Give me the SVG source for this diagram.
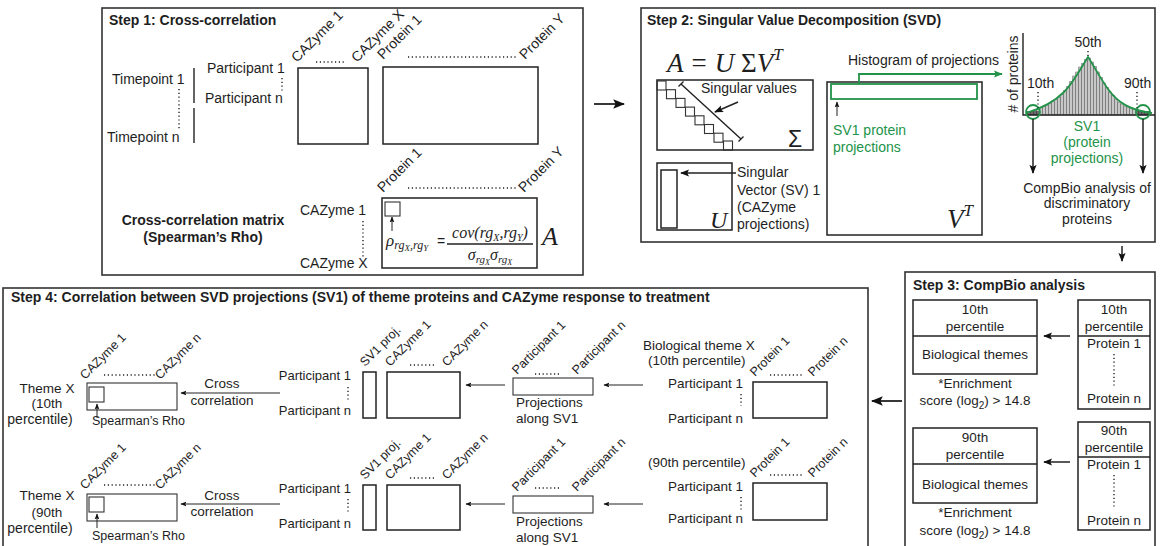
<svg xmlns="http://www.w3.org/2000/svg" width="1160" height="546" viewBox="0 0 1160 546">
<style>
text{font-family:"Liberation Sans",Arial,sans-serif;font-size:14px;fill:#1e1e1e}
.b{font-weight:bold}
.s{font-size:13.5px}
.f{font-size:13px}
.fs{font-size:12.5px}
.r{font-size:12.5px}
.mid{text-anchor:middle}
.end{text-anchor:end}
.g{fill:#23934a}
.m{font-family:"Liberation Serif","Times New Roman",serif;font-style:italic}
.frame{fill:#fff;stroke:#333;stroke-width:1.6}
.box{fill:none;stroke:#222;stroke-width:1.5}
.thin{fill:none;stroke:#333;stroke-width:1.1}
.dot{fill:none;stroke:#222;stroke-width:1.4;stroke-dasharray:1.2 2.6}
.ln{fill:none;stroke:#222;stroke-width:1.4}
.ar{fill:none;stroke:#222;stroke-width:1.5;marker-end:url(#ah)}
.arL{fill:none;stroke:#222;stroke-width:1.8;marker-end:url(#ahL)}
.arS{fill:none;stroke:#222;stroke-width:1;marker-end:url(#ahS)}
.gl{fill:none;stroke:#23934a;stroke-width:1.8}
.bar{fill:#c8c8c8;stroke:#555;stroke-width:0.5}
</style>
<defs>
<marker id="ahL" viewBox="0 0 10 10" refX="9" refY="5" markerWidth="12" markerHeight="12" markerUnits="userSpaceOnUse" orient="auto"><path d="M0,1 L10,5 L0,9 L2,5 z" fill="#111"/></marker>
<marker id="ah" viewBox="0 0 10 10" refX="9" refY="5" markerWidth="9" markerHeight="9" markerUnits="userSpaceOnUse" orient="auto"><path d="M0,1 L10,5 L0,9 L2,5 z" fill="#111"/></marker>
<marker id="ahS" viewBox="0 0 10 10" refX="9" refY="5" markerWidth="6" markerHeight="6" markerUnits="userSpaceOnUse" orient="auto"><path d="M0,1 L10,5 L0,9 L2,5 z" fill="#111"/></marker>
<marker id="ahG" viewBox="0 0 10 10" refX="9" refY="5" markerWidth="9" markerHeight="9" markerUnits="userSpaceOnUse" orient="auto"><path d="M0,1 L10,5 L0,9 L2,5 z" fill="#23934a"/></marker>
</defs>
<rect width="1160" height="546" fill="#fff"/>

<!-- Step 1 -->
<g id="step1">
<rect class="frame" x="102" y="8" width="481" height="267"/>
<text class="b" x="109" y="25">Step 1: Cross-correlation</text>
<text x="112" y="84">Timepoint 1</text>
<text x="107" y="142">Timepoint n</text>
<line class="dot" x1="179" y1="89" x2="179" y2="130"/>
<line class="ln" x1="194" y1="68" x2="194" y2="103"/>
<line class="ln" x1="194" y1="108" x2="194" y2="143"/>
<text x="207" y="73">Participant 1</text>
<text x="205" y="103">Participant n</text>
<line class="dot" x1="282" y1="78" x2="282" y2="91"/>
<rect class="box" x="298" y="68" width="70" height="76"/>
<text transform="translate(297,63) rotate(-45)">CAZyme 1</text>
<text transform="translate(357,63) rotate(-45)">CAZyme X</text>
<line class="dot" x1="316" y1="62" x2="346" y2="62"/>
<rect class="box" x="383" y="67" width="155" height="77"/>
<text transform="translate(383,60) rotate(-45)">Protein 1</text>
<text transform="translate(525,60) rotate(-45)">Protein Y</text>
<line class="dot" x1="408" y1="57" x2="518" y2="57"/>
<text class="b mid" x="203" y="225">Cross-correlation matrix</text>
<text class="b mid" x="203" y="242">(Spearman’s Rho)</text>
<text x="300" y="215">CAZyme 1</text>
<text x="300" y="268">CAZyme X</text>
<line class="dot" x1="363" y1="221" x2="363" y2="258"/>
<rect class="box" x="382" y="198" width="155" height="70"/>
<rect class="thin" x="385" y="202" width="15" height="14"/>
<line class="arS" x1="392" y1="231" x2="392" y2="217"/>
<text class="m" x="386" y="246" style="font-size:17px">ρ<tspan style="font-size:12px" dy="3">rg</tspan><tspan style="font-size:9px" dy="2">X</tspan><tspan style="font-size:12px" dy="-2">,rg</tspan><tspan style="font-size:9px" dy="2">Y</tspan></text>
<text x="437" y="246" style="font-size:14px">=</text>
<text class="m mid" x="490" y="238" style="font-size:16px">cov(rg<tspan style="font-size:10px" dy="3">X</tspan><tspan dy="-3">,rg</tspan><tspan style="font-size:10px" dy="3">Y</tspan><tspan dy="-3">)</tspan></text>
<line class="ln" x1="447" y1="244" x2="533" y2="244" stroke-width="1.2"/>
<text class="m mid" x="490" y="260" style="font-size:16px">σ<tspan style="font-size:11px" dy="3">rg</tspan><tspan style="font-size:8px" dy="2">X</tspan><tspan dy="-5">σ</tspan><tspan style="font-size:11px" dy="3">rg</tspan><tspan style="font-size:8px" dy="2">X</tspan></text>
<text class="m" x="542" y="245" style="font-size:26px">A</text>
<text transform="translate(383,193) rotate(-45)">Protein 1</text>
<text transform="translate(524,193) rotate(-45)">Protein Y</text>
<line class="dot" x1="408" y1="188" x2="518" y2="188"/>
</g>

<!-- Step 2 -->
<g id="step2">
<rect class="frame" x="641" y="8" width="514" height="234"/>
<text class="b" x="647" y="25">Step 2: Singular Value Decomposition (SVD)</text>
<text class="m" x="667" y="72" style="font-size:27px">A = U <tspan style="font-style:normal">Σ</tspan>V<tspan style="font-size:17px" dy="-12">T</tspan></text>
<rect class="box" x="657" y="80" width="156" height="70"/>
<g class="thin">
<rect x="657" y="81" width="9" height="9"/>
<rect x="666.5" y="89.7" width="9" height="9"/>
<rect x="676" y="98.4" width="9" height="9"/>
<rect x="685.5" y="107.1" width="9" height="9"/>
<rect x="695" y="115.8" width="9" height="9"/>
<rect x="704.5" y="124.5" width="9" height="9"/>
<rect x="714" y="133.2" width="9" height="9"/>
<rect x="723.5" y="141" width="9" height="9"/>
</g>
<path class="ln" d="M681,84 L741,139 M678.5,86.5 L683.5,81.5 M738.5,141.5 L743.5,136.5" stroke-width="1.2"/>
<text x="701" y="93">Singular values</text>
<line class="ar" x1="738" y1="102" x2="715" y2="112" stroke-width="1.1"/>
<text x="788" y="147" style="font-size:23px">Σ</text>
<rect class="box" x="657" y="163" width="75" height="67"/>
<rect class="box" x="661" y="170" width="16" height="58"/>
<text class="m" x="710" y="228" style="font-size:24px">U</text>
<line class="ar" x1="736" y1="173" x2="681" y2="173" stroke-width="1.1"/>
<text x="737" y="177">Singular</text>
<text x="737" y="195">Vector (SV) 1</text>
<text x="737" y="212">(CAZyme</text>
<text x="737" y="229">projections)</text>
<rect class="box" x="827" y="82" width="155" height="153"/>
<rect class="gl" x="831" y="84" width="146" height="15"/>
<path class="gl" d="M859,84 V74 H1002" stroke-width="1.5" marker-end="url(#ahG)"/>
<text x="848" y="65">Histogram of projections</text>
<line class="arS" x1="837" y1="116" x2="837" y2="102"/>
<text class="g" x="833" y="135">SV1 protein</text>
<text class="g" x="833" y="152">projections</text>
<text class="m" x="947" y="228" style="font-size:27px">V<tspan style="font-size:17px" dy="-12">T</tspan></text>
<g>
<rect class="bar" x="1027.75" y="112" width="2.5" height="3"/>
<rect class="bar" x="1030.75" y="111" width="2.5" height="4"/>
<rect class="bar" x="1033.75" y="110" width="2.5" height="5"/>
<rect class="bar" x="1036.75" y="109" width="2.5" height="6"/>
<rect class="bar" x="1039.75" y="107.5" width="2.5" height="7.5"/>
<rect class="bar" x="1042.75" y="106.5" width="2.5" height="8.5"/>
<rect class="bar" x="1045.75" y="105" width="2.5" height="10"/>
<rect class="bar" x="1048.75" y="103" width="2.5" height="12"/>
<rect class="bar" x="1051.75" y="101" width="2.5" height="14"/>
<rect class="bar" x="1054.75" y="99.5" width="2.5" height="15.5"/>
<rect class="bar" x="1057.75" y="97.5" width="2.5" height="17.5"/>
<rect class="bar" x="1060.75" y="94.5" width="2.5" height="20.5"/>
<rect class="bar" x="1063.75" y="90.5" width="2.5" height="24.5"/>
<rect class="bar" x="1066.75" y="86.5" width="2.5" height="28.5"/>
<rect class="bar" x="1069.75" y="81.5" width="2.5" height="33.5"/>
<rect class="bar" x="1072.75" y="76" width="2.5" height="39"/>
<rect class="bar" x="1075.75" y="72" width="2.5" height="43"/>
<rect class="bar" x="1078.75" y="67" width="2.5" height="48"/>
<rect class="bar" x="1081.75" y="63.5" width="2.5" height="51.5"/>
<rect class="bar" x="1084.75" y="59.5" width="2.5" height="55.5"/>
<rect class="bar" x="1087.75" y="58" width="2.5" height="57"/>
<rect class="bar" x="1090.75" y="62" width="2.5" height="53"/>
<rect class="bar" x="1093.75" y="66.5" width="2.5" height="48.5"/>
<rect class="bar" x="1096.75" y="72" width="2.5" height="43"/>
<rect class="bar" x="1099.75" y="77.5" width="2.5" height="37.5"/>
<rect class="bar" x="1102.75" y="83" width="2.5" height="32"/>
<rect class="bar" x="1105.75" y="87.5" width="2.5" height="27.5"/>
<rect class="bar" x="1108.75" y="92" width="2.5" height="23"/>
<rect class="bar" x="1111.75" y="95.5" width="2.5" height="19.5"/>
<rect class="bar" x="1114.75" y="99" width="2.5" height="16"/>
<rect class="bar" x="1117.75" y="102" width="2.5" height="13"/>
<rect class="bar" x="1120.75" y="104" width="2.5" height="11"/>
<rect class="bar" x="1123.75" y="106" width="2.5" height="9"/>
<rect class="bar" x="1126.75" y="107" width="2.5" height="8"/>
<rect class="bar" x="1129.75" y="108" width="2.5" height="7"/>
<rect class="bar" x="1132.75" y="109" width="2.5" height="6"/>
<rect class="bar" x="1135.75" y="110" width="2.5" height="5"/>
<rect class="bar" x="1138.75" y="110.5" width="2.5" height="4.5"/>
<rect class="bar" x="1141.75" y="111" width="2.5" height="4"/>
<rect class="bar" x="1144.75" y="111.5" width="2.5" height="3.5"/>
<rect class="bar" x="1147.75" y="112" width="2.5" height="3"/>
</g>
<path d="M1027,111v4M1029,111v4M1031,111v4M1033,111v4M1035,111v4M1037,111v4M1039,111v4M1137,111v4M1139,111v4M1141,111v4M1143,111v4M1145,111v4M1147,111v4M1149,111v4" stroke="#111" stroke-width="1"/>
<path class="ln" d="M1023,33 V115 H1155" stroke-width="1.6"/>
<path class="gl" d="M1026,113 C1040,109 1054,102 1064,92 C1074,82 1082,66 1088,57 C1094,66 1100,78 1108,89 C1118,103 1130,110 1152,113"/>
<circle class="gl" cx="1033" cy="112" r="7"/>
<circle class="gl" cx="1143" cy="112" r="7"/>
<text class="mid" transform="translate(1018,74) rotate(-90)"># of proteins</text>
<text class="mid" x="1088" y="47">50th</text>
<line class="dot" x1="1088" y1="51" x2="1088" y2="57" stroke-width="1.1"/>
<text x="1027" y="88">10th</text>
<line class="dot" x1="1038" y1="92" x2="1038" y2="108" stroke-width="1.1"/>
<text x="1124" y="88">90th</text>
<line class="dot" x1="1137" y1="92" x2="1137" y2="108" stroke-width="1.1"/>
<text class="g mid" x="1087" y="131">SV1</text>
<text class="g mid" x="1087" y="147">(protein</text>
<text class="g mid" x="1087" y="163">projections)</text>
<line class="ar" x1="1033" y1="119" x2="1033" y2="173" stroke-width="1.3"/>
<line class="ar" x1="1143" y1="119" x2="1143" y2="173" stroke-width="1.3"/>
<text class="mid" x="1087" y="193">CompBio analysis of</text>
<text class="mid" x="1087" y="208">discriminatory</text>
<text class="mid" x="1087" y="224">proteins</text>
</g>

<!-- Step 3 -->
<g id="step3">
<rect class="frame" x="905" y="272" width="250" height="280"/>
<text class="b" x="913" y="290">Step 3: CompBio analysis</text>
<rect class="box" x="913" y="300" width="124" height="74"/>
<line class="ln" x1="913" y1="336" x2="1037" y2="336"/>
<text class="s mid" x="975" y="314">10th</text>
<text class="s mid" x="975" y="331">percentile</text>
<text class="s mid" x="975" y="359">Biological themes</text>
<text class="s mid" x="975" y="388">*Enrichment</text>
<text class="s mid" x="975" y="405">score (log<tspan style="font-size:10px" dy="4">2</tspan><tspan dy="-4">) &gt; 14.8</tspan></text>
<rect class="box" x="1078" y="300" width="72" height="109"/>
<line class="ln" x1="1078" y1="336" x2="1150" y2="336"/>
<text class="s mid" x="1114" y="314">10th</text>
<text class="s mid" x="1114" y="331">percentile</text>
<text class="s mid" x="1114" y="348">Protein 1</text>
<line class="dot" x1="1114" y1="354" x2="1114" y2="388"/>
<text class="s mid" x="1114" y="403">Protein n</text>
<rect class="box" x="913" y="428" width="124" height="75"/>
<line class="ln" x1="913" y1="464" x2="1037" y2="464"/>
<text class="s mid" x="975" y="442">90th</text>
<text class="s mid" x="975" y="459">percentile</text>
<text class="s mid" x="975" y="489">Biological themes</text>
<text class="s mid" x="975" y="517">*Enrichment</text>
<text class="s mid" x="975" y="535">score (log<tspan style="font-size:10px" dy="4">2</tspan><tspan dy="-4">) &gt; 14.8</tspan></text>
<rect class="box" x="1078" y="422" width="72" height="108"/>
<line class="ln" x1="1078" y1="457" x2="1150" y2="457"/>
<text class="s mid" x="1114" y="435">90th</text>
<text class="s mid" x="1114" y="452">percentile</text>
<text class="s mid" x="1114" y="469">Protein 1</text>
<line class="dot" x1="1114" y1="475" x2="1114" y2="508"/>
<text class="s mid" x="1114" y="525">Protein n</text>
</g>

<!-- Step 4 -->
<g id="step4">
<rect class="frame" x="3" y="288" width="865" height="264"/>
<text class="b" x="11" y="302">Step 4: Correlation between SVD projections (SV1) of theme proteins and CAZyme response to treatment</text>
<!-- row 1 -->
<text class="s mid" x="47" y="393">Theme X</text>
<text class="s mid" x="47" y="408">(10th</text>
<text class="mid" x="40" y="424">percentile)</text>
<rect class="thin" x="87" y="383" width="90" height="27"/>
<rect class="thin" x="89" y="387" width="15" height="15"/>
<line class="arS" x1="97" y1="418" x2="97" y2="404"/>
<text class="fs" x="92" y="425">Spearman’s Rho</text>
<text class="r" transform="translate(85,380) rotate(-45)">CAZyme 1</text>
<text class="r" transform="translate(160,380) rotate(-45)">CAZyme n</text>
<line class="dot" x1="104" y1="375" x2="157" y2="375" stroke-width="1"/>
<text class="s mid" x="222" y="388">Cross</text>
<text class="s mid" x="222" y="405">correlation</text>
<text class="f end" x="351" y="380">Participant 1</text>
<text class="f end" x="351" y="415">Participant n</text>
<line class="dot" x1="348" y1="387" x2="348" y2="402"/>
<rect class="box" x="363" y="372" width="13" height="46"/>
<rect class="box" x="387" y="372" width="73" height="46"/>
<text class="r" transform="translate(365,367) rotate(-45)">SV1 proj.</text>
<text class="r" transform="translate(390,367) rotate(-45)">CAZyme 1</text>
<text class="r" transform="translate(447,367) rotate(-45)">CAZyme n</text>
<line class="dot" x1="410" y1="365" x2="434" y2="365"/>
<rect class="thin" x="513" y="378" width="80" height="17"/>
<text class="r" transform="translate(517,375) rotate(-45)">Participant 1</text>
<text class="r" transform="translate(577,375) rotate(-45)">Participant n</text>
<line class="dot" x1="535" y1="374" x2="561" y2="374"/>
<text class="s" x="516" y="407">Projections</text>
<text class="s" x="516" y="423">along SV1</text>
<text class="s" x="643" y="350">Biological theme X</text>
<text class="s" x="648" y="365">(10th percentile)</text>
<text class="s end" x="743" y="388">Participant 1</text>
<text class="s end" x="743" y="423">Participant n</text>
<line class="dot" x1="741" y1="394" x2="741" y2="406"/>
<rect class="box" x="753" y="382" width="74" height="36"/>
<text class="r" transform="translate(755,377) rotate(-45)">Protein 1</text>
<text class="r" transform="translate(813,377) rotate(-45)">Protein n</text>
<line class="dot" x1="770" y1="375" x2="803" y2="375"/>
<!-- row 2 -->
<text class="s mid" x="47" y="500">Theme X</text>
<text class="s mid" x="47" y="517">(90th</text>
<text class="mid" x="40" y="533">percentile)</text>
<rect class="thin" x="87" y="494" width="90" height="27"/>
<rect class="thin" x="89" y="497" width="15" height="15"/>
<line class="arS" x1="97" y1="528" x2="97" y2="514"/>
<text class="fs" x="92" y="540">Spearman’s Rho</text>
<text class="r" transform="translate(85,490) rotate(-45)">CAZyme 1</text>
<text class="r" transform="translate(160,490) rotate(-45)">CAZyme n</text>
<line class="dot" x1="104" y1="485" x2="157" y2="485" stroke-width="1"/>
<text class="s mid" x="222" y="500">Cross</text>
<text class="s mid" x="222" y="516">correlation</text>
<text class="f end" x="351" y="493">Participant 1</text>
<text class="f end" x="351" y="528">Participant n</text>
<line class="dot" x1="348" y1="499" x2="348" y2="514"/>
<rect class="box" x="363" y="485" width="13" height="45"/>
<rect class="box" x="387" y="485" width="73" height="45"/>
<text class="r" transform="translate(365,480) rotate(-45)">SV1 proj.</text>
<text class="r" transform="translate(390,480) rotate(-45)">CAZyme 1</text>
<text class="r" transform="translate(447,480) rotate(-45)">CAZyme n</text>
<line class="dot" x1="410" y1="478" x2="434" y2="478"/>
<rect class="thin" x="513" y="496" width="80" height="17"/>
<text class="r" transform="translate(517,492) rotate(-45)">Participant 1</text>
<text class="r" transform="translate(577,492) rotate(-45)">Participant n</text>
<line class="dot" x1="535" y1="488" x2="561" y2="488"/>
<text class="s" x="516" y="526">Projections</text>
<text class="s" x="516" y="542">along SV1</text>
<text class="s" x="648" y="467">(90th percentile)</text>
<text class="s end" x="743" y="491">Participant 1</text>
<text class="s end" x="743" y="523">Participant n</text>
<line class="dot" x1="741" y1="497" x2="741" y2="512"/>
<rect class="box" x="753" y="483" width="74" height="37"/>
<text class="r" transform="translate(755,478) rotate(-45)">Protein 1</text>
<text class="r" transform="translate(813,478) rotate(-45)">Protein n</text>
<line class="dot" x1="770" y1="475" x2="803" y2="475"/>
</g>

<!-- connectors -->
<g id="connectors">
<line class="arL" x1="594" y1="104" x2="624" y2="104"/>
<line class="ar" x1="1122" y1="246" x2="1122" y2="261"/>
<line class="ar" x1="1070" y1="336" x2="1044" y2="336"/>
<line class="ar" x1="1070" y1="462" x2="1044" y2="462"/>
<line class="arL" x1="902" y1="401" x2="872" y2="401"/>
<line class="arS" x1="280" y1="393" x2="181" y2="393"/>
<line class="arS" x1="505" y1="385" x2="466" y2="385"/>
<line class="arS" x1="643" y1="385" x2="604" y2="385"/>
<line class="arS" x1="280" y1="504" x2="181" y2="504"/>
<line class="arS" x1="505" y1="504" x2="466" y2="504"/>
<line class="arS" x1="643" y1="504" x2="604" y2="504"/>
</g>
</svg>
